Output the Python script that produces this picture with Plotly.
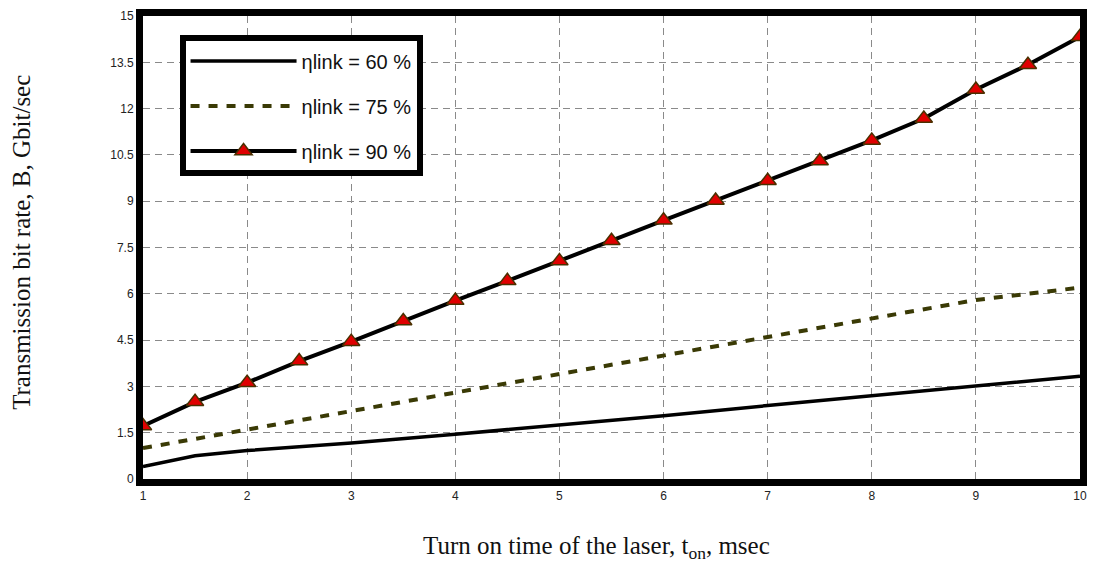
import plotly.graph_objects as go

# Data
x_half = [1, 1.5, 2, 2.5, 3, 3.5, 4, 4.5, 5, 5.5, 6, 6.5, 7, 7.5, 8, 8.5, 9, 9.5, 10]
eta90 = [1.72, 2.5, 3.12, 3.82, 4.45, 5.12, 5.78, 6.42, 7.06, 7.72, 8.38, 9.02, 9.66, 10.3, 10.97, 11.68, 12.62, 13.42, 14.33]

x_60 = [1, 1.5, 2, 3, 4, 5, 6, 7, 8, 9, 10]
eta60 = [0.4, 0.75, 0.92, 1.17, 1.45, 1.75, 2.05, 2.38, 2.7, 3.0, 3.33]

x_75 = [1, 2, 3, 4, 5, 6, 7, 8, 9, 10]
eta75 = [1.0, 1.6, 2.2, 2.8, 3.4, 4.0, 4.6, 5.2, 5.8, 6.2]

x_ticks = [1, 2, 3, 4, 5, 6, 7, 8, 9, 10]
y_ticks = [0, 1.5, 3, 4.5, 6, 7.5, 9, 10.5, 12, 13.5, 15]
y_tick_labels = ["0", "1.5", "3", "4.5", "6", "7.5", "9", "10.5", "12", "13.5", "15"]

fig = go.Figure()
fig.add_trace(go.Scatter(x=x_60, y=eta60, mode="lines", name="\u03b7link = 60 %",
                         legendgroup="a",
                         line=dict(color="black", width=3.5)))
fig.add_trace(go.Scatter(x=x_75, y=eta75, mode="lines", name="\u03b7link = 75 %",
                         legendgroup="b",
                         line=dict(color="#3a3a05", width=4, dash="9px,9px")))
fig.add_trace(go.Scatter(x=x_half, y=eta90, mode="lines+markers", name="\u03b7link = 90 %",
                         legendgroup="c",
                         line=dict(color="black", width=4),
                         marker=dict(symbol="triangle-up", size=15, color="#e00000",
                                     line=dict(color="#4a3000", width=1.5))))

axis_common = dict(showline=True, linecolor="black", linewidth=7, mirror=True,
                   showgrid=True, gridcolor="#8a8a8a", griddash="7px,5px", gridwidth=1,
                   zeroline=False, ticks="",
                   tickfont=dict(family="Liberation Sans, Arial", size=12, color="#222"))

fig.update_xaxes(range=[1, 10], tickvals=x_ticks, ticktext=[str(v) for v in x_ticks],
                 **axis_common)
fig.update_yaxes(range=[0, 15], tickvals=y_ticks, ticktext=y_tick_labels,
                 **axis_common)

fig.add_annotation(text="Turn on time of the laser, t<sub>on</sub>, msec",
                   xref="paper", yref="paper", x=0.484, y=0, yanchor="middle",
                   yshift=-68, showarrow=False,
                   font=dict(family="Liberation Serif, Times New Roman", size=25, color="#111"))
fig.add_annotation(text="Transmission bit rate, B, Gbit/sec",
                   xref="paper", yref="paper", x=0, y=0.51, xanchor="center",
                   xshift=-121, textangle=-90, showarrow=False,
                   font=dict(family="Liberation Serif, Times New Roman", size=25, color="#111"))

fig.update_layout(
    width=1096, height=565,
    margin=dict(l=143, r=9, t=16, b=86),
    plot_bgcolor="white", paper_bgcolor="white",
    showlegend=True,
    legend=dict(x=0.039, y=0.958, xanchor="left", yanchor="top",
                bgcolor="white", bordercolor="black", borderwidth=6,
                font=dict(family="Liberation Sans, Arial", size=20, color="#111"),
                itemwidth=106, tracegroupgap=16),
)

fig.write_html("out.html")
